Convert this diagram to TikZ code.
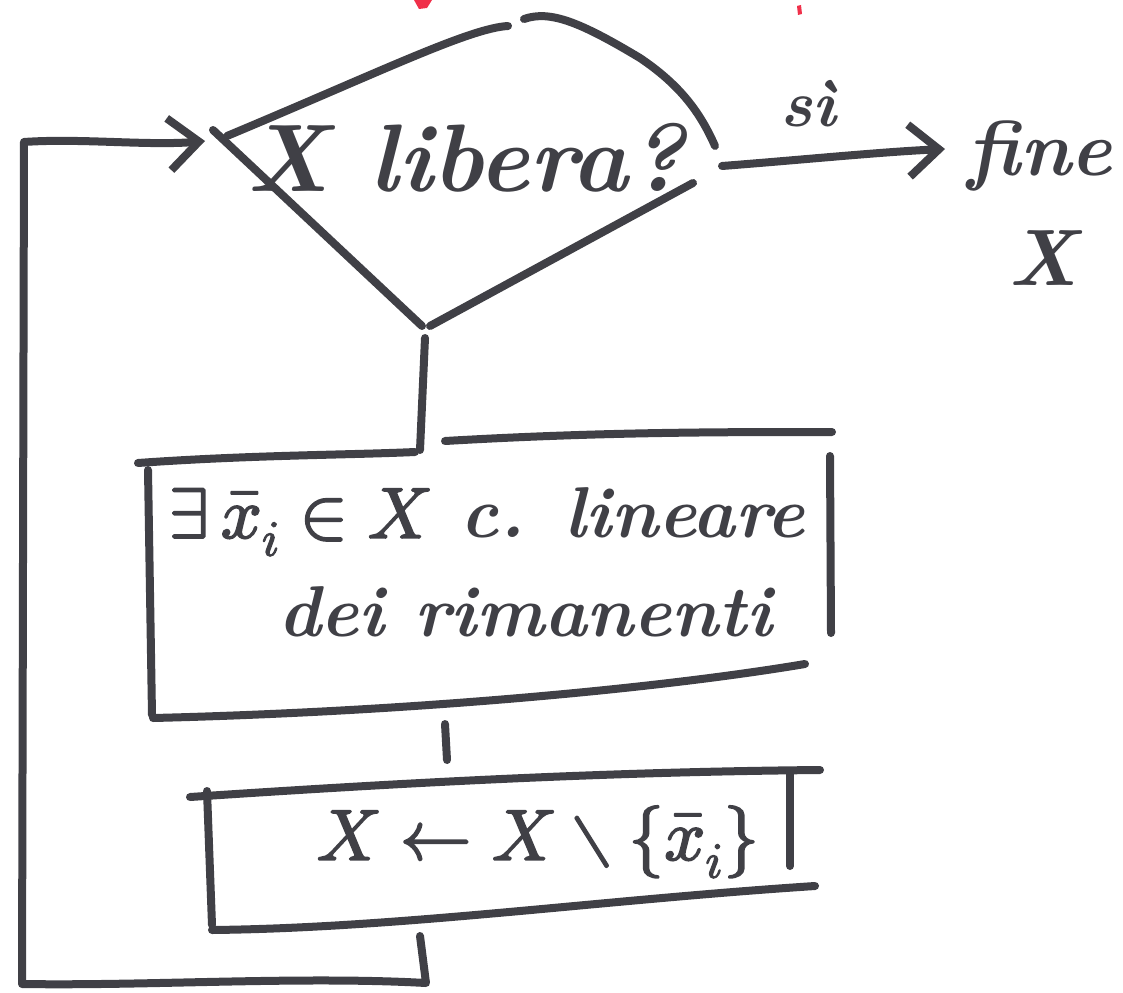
\documentclass[tikz,border=0pt]{standalone}
\usepackage{fontspec}
\usepackage{unicode-math}
\setmathfont{Latin Modern Math}
\setmathfont{Latin Modern Math}[version=bold,FakeBold=2.5]
\usetikzlibrary{arrows.meta}
\definecolor{ink}{HTML}{404046}
\definecolor{redink}{HTML}{F0304A}
\begin{document}
\mathversion{bold}%
\begin{tikzpicture}[x=1pt,y=-1pt,line cap=round,line join=round,
  stroke/.style={draw=ink,line width=8pt},
  conn/.style={stroke},
  arr/.style={stroke,-{Straight Barb[length=30pt,width=52pt,line width=8pt]}},
  lbl/.style={text=ink,inner sep=0pt}]
\useasboundingbox (0,0) rectangle (1123,992);

% red fragments at the top border
\fill[redink] (414,0) -- (432,0) -- (427,8) -- (419,9) -- cycle;
\fill[redink] (797,6) -- (801,5) -- (802,14) -- (798,15) -- cycle;

% ---- decision: X libera?
\coordinate (dL) at (213,130);
\coordinate (dB) at (425,330);
\coordinate (dR) at (722,166);
\draw[stroke] (227,136) .. controls (380,72) and (470,28) .. (508,26);
\draw[stroke] (524,19) .. controls (550,10) and (580,22) .. (640,58)
              .. controls (680,85) and (700,112) .. (715,146);
\draw[stroke] (693,183) -- (430,326);
\draw[stroke] (dL) -- (422,326);
\node[lbl,font=\fontsize{96}{100}\selectfont\bfseries\itshape] (q) at (466,158) {X libera?};

% ---- yes branch
\node[lbl,font=\fontsize{66}{70}\selectfont\bfseries\itshape] (si) at (808,104) {sì};
\node[lbl,font=\fontsize{78}{82}\selectfont\bfseries\itshape] (fine) at (1040,156) {fine};
\node[lbl,font=\fontsize{80}{84}\selectfont\bfseries\itshape] (fx) at (1043,258) {X};
\coordinate (fineW) at (945,149);
\draw[arr] (dR) .. controls (800,160) and (880,152) .. (fineW);

% ---- process 1
\coordinate (p1T) at (420,450);
\draw[stroke] (138,463) .. controls (250,455) and (350,455) .. (415,452);
\draw[stroke] (445,441) .. controls (600,432) and (720,432) .. (832,432);
\draw[stroke] (148,470) -- (152,715);
\draw[stroke] (830,456) -- (831,633);
\draw[stroke] (153,718) .. controls (400,712) and (650,690) .. (805,664);
\node[lbl,font=\fontsize{72}{76}\selectfont\bfseries\itshape] (p1a) at (487,522)
  {$\exists\,\bar{x}_i\in X$ c. lineare};
\node[lbl,font=\fontsize{72}{76}\selectfont\bfseries\itshape] (p1b) at (525,612) {dei rimanenti};
\draw[conn] (dB) ++(0,8) -- (p1T);

% ---- process 2
\coordinate (p1B) at (445,724);
\coordinate (p2T) at (447,760);
\draw[conn] (p1B) -- (p2T);
\draw[stroke] (190,797) .. controls (400,783) and (600,772) .. (820,770);
\draw[stroke] (207,791) -- (212,925);
\draw[stroke] (790,772) -- (790,866);
\draw[stroke] (212,930) .. controls (400,928) and (600,900) .. (815,886);
\node[lbl,font=\fontsize{72}{76}\selectfont] (p2) at (538,842)
  {$X\leftarrow X\setminus\{\bar{x}_i\}$};

% ---- loop back
\coordinate (p2B) at (420,936);
\coordinate (c1) at (426,983);
\coordinate (c2) at (22,984);
\coordinate (c3) at (24,142);
\coordinate (loopin) at (205,141);
\draw[arr] (p2B) -- (c1) .. controls (300,976) and (150,986) .. (c2) -- (c3)
  .. controls (80,138) and (150,146) .. (loopin);
\end{tikzpicture}
\end{document}
